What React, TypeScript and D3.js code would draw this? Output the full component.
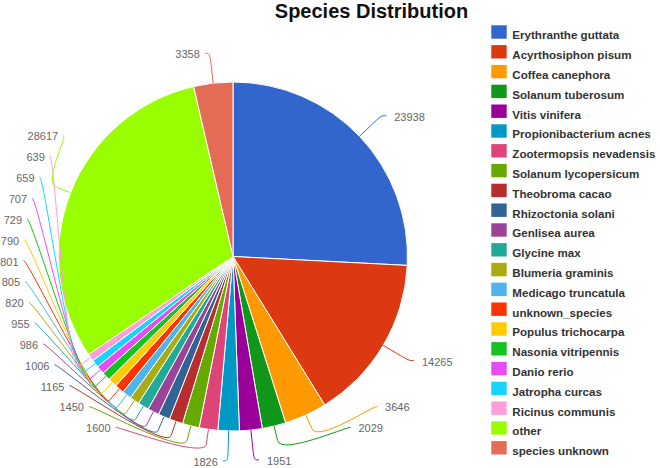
import React from "react";
import * as d3 from "d3";

const species = [
  "Erythranthe guttata",
  "Acyrthosiphon pisum",
  "Coffea canephora",
  "Solanum tuberosum",
  "Vitis vinifera",
  "Propionibacterium acnes",
  "Zootermopsis nevadensis",
  "Solanum lycopersicum",
  "Theobroma cacao",
  "Rhizoctonia solani",
  "Genlisea aurea",
  "Glycine max",
  "Blumeria graminis",
  "Medicago truncatula",
  "unknown_species",
  "Populus trichocarpa",
  "Nasonia vitripennis",
  "Danio rerio",
  "Jatropha curcas",
  "Ricinus communis",
  "other",
  "species unknown",
];

const counts = [
  23938, 14265, 3646, 2029, 1951, 1826, 1600, 1450, 1165, 1006, 986, 955, 820,
  805, 801, 790, 729, 707, 659, 639, 28617, 3358,
];

const colors = [
  "#3366cc", "#dc3912", "#ff9900", "#109618", "#990099", "#0099c6",
  "#dd4477", "#66aa00", "#b82e2e", "#316395", "#994499", "#22aa99",
  "#aaaa11", "#4cb5ec", "#ff3300", "#ffcc00", "#14c41c", "#e64cf2",
  "#16d4fc", "#ff9ed8", "#99ff00", "#e46c56",
];

const title = "Species Distribution";

const W = 660;
const H = 468;
const cx = 233;
const cy = 256.5;
const radius = 174.5;
const labelDistance = 30;
const connectorOffset = 15;
const labelHeight = 20.85;
const FONT = "'Liberation Sans', Arial, Helvetica, sans-serif";

type Lab = {
  i: number;
  a: number;
  left: boolean;
  edge: [number, number];
  brk: [number, number];
  nat: [number, number];
  x: number;
  y: number;
};

function layoutLabels(arcs: d3.PieArcDatum<number>[]): Lab[] {
  const R = radius + labelDistance;
  const labs: Lab[] = arcs.map((d, i) => {
    const a = (d.startAngle + d.endAngle) / 2;
    const s = Math.sin(a), c = -Math.cos(a);
    return {
      i,
      a,
      left: a > Math.PI,
      edge: [cx + radius * s, cy + radius * c],
      brk: [cx + (radius + connectorOffset) * s, cy + (radius + connectorOffset) * c],
      nat: [cx + R * s, cy + R * c],
      x: 0,
      y: 0,
    };
  });
  const getX = (y: number, left: boolean) => {
    const v = Math.max(-1, Math.min(1, (y - cy) / R));
    return cx + (left ? -1 : 1) * Math.cos(Math.asin(v)) * R;
  };
  for (const half of [false, true]) {
    const pts = labs.filter((l) => l.left === half);
    pts.sort((p, q) => (half ? q.a - p.a : p.a - q.a));
    const slots: (number | null)[] = [];
    for (let pos = cy - R; pos <= cy + R; pos += labelHeight) slots.push(pos);
    const n = slots.length;
    const len = pts.length;
    const used: { i: number; y: number }[] = [];
    pts.forEach((p, j) => {
      let closest = 1e9;
      let si = 0;
      for (let k = 0; k < n; k++) {
        const s = slots[k];
        if (s === null) continue;
        const dd = Math.abs(s - p.nat[1]);
        if (dd < closest) {
          closest = dd;
          si = k;
        }
      }
      if (si < j && slots[j] !== null) si = j;
      else if (n < len - j + si && slots[j] !== null) {
        si = n - len + j;
        while (slots[si] === null) si++;
      } else {
        while (slots[si] === null) si++;
      }
      used.push({ i: si, y: slots[si] as number });
      slots[si] = null;
    });
    used.sort((u, v) => u.i - v.i);
    pts.forEach((p, j) => {
      const slot = used[j];
      let y = slot.y;
      const ny = p.nat[1];
      const below = slots[slot.i + 1];
      const above = slots[slot.i - 1];
      if ((ny > y && below !== null) || (ny < y && above !== null)) y = ny;
      p.y = y;
      p.x = getX(y, half);
    });
  }
  return labs;
}

export default function App() {
  const arcs = d3
    .pie<number>()
    .sort(null)
    .value((d) => d)(counts);
  const arcGen = d3
    .arc<d3.PieArcDatum<number>>()
    .innerRadius(0)
    .outerRadius(radius);
  const labs = layoutLabels(arcs);

  const legendX = 491.3;
  const legendY = 25.3;
  const legendStep = 19.8;

  return (
    <svg width={W} height={H} style={{ display: "block", position: "absolute", left: 0, top: 0 }}>
      <rect x={0} y={0} width={W} height={H} fill="#fff" />
      <text
        x={371.5}
        y={18}
        textAnchor="middle"
        fontFamily={FONT}
        fontWeight="bold"
        fontSize={20}
        fill="#111"
      >
        {title}
      </text>
      <g>
        {arcs.map((d, i) => (
          <path
            key={i}
            d={arcGen(d) || ""}
            transform={`translate(${cx},${cy})`}
            fill={colors[i]}
            stroke="#fff"
            strokeWidth={1}
            strokeLinejoin="round"
          />
        ))}
      </g>
      <g>
        {labs.map((l) => {
          const dir = l.left ? -1 : 1;
          const p = d3.path();
          p.moveTo(l.x + 5 * dir, l.y);
          p.bezierCurveTo(
            l.x,
            l.y,
            2 * l.brk[0] - l.edge[0],
            2 * l.brk[1] - l.edge[1],
            l.brk[0],
            l.brk[1]
          );
          p.lineTo(l.edge[0], l.edge[1]);
          return (
            <g key={l.i}>
              <path d={p.toString()} fill="none" stroke={colors[l.i]} strokeWidth={1} />
              <text
                x={l.left ? l.x - 10 : l.x + 13}
                y={l.y + 5}
                textAnchor={l.left ? "end" : "start"}
                fontFamily={FONT}
                fontSize={11}
                fill="#666"
              >
                {String(counts[l.i])}
              </text>
            </g>
          );
        })}
      </g>
      <g>
        {species.map((s, i) => (
          <g key={s} transform={`translate(${legendX},${legendY + i * legendStep})`}>
            <rect width={15.4} height={13.4} fill={colors[i]} />
            <text
              x={21}
              y={14}
              fontFamily={FONT}
              fontWeight="bold"
              fontSize={11.6}
              fill="#333"
            >
              {s}
            </text>
          </g>
        ))}
      </g>
    </svg>
  );
}
